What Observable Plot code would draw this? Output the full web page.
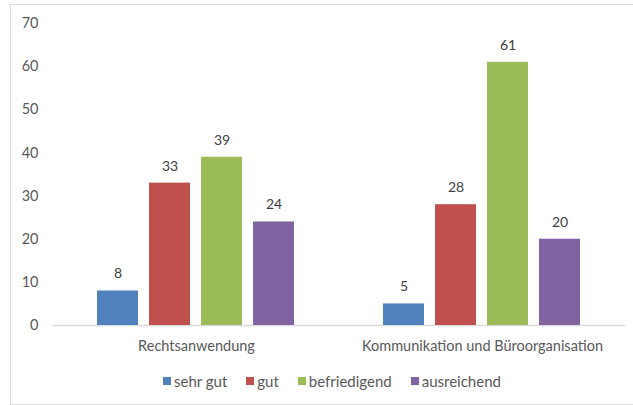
<!DOCTYPE html>
<html>
<head>
<meta charset="utf-8">
<script src="https://cdn.jsdelivr.net/npm/d3@7"></script>
<script src="https://cdn.jsdelivr.net/npm/@observablehq/plot@0.6"></script>
<style>
  html, body { margin: 0; padding: 0; background: #fff; }
  #wrap { position: relative; width: 633px; height: 405px; overflow: hidden; font-family: Lato, sans-serif; }
  #frame { position: absolute; left: 10px; top: 4px; width: 640px; height: 401px; border: 1.5px solid #d9d9d9; box-sizing: border-box; }
  #chart { position: absolute; left: 0; top: 0; }
  #legend { position: absolute; left: 163px; top: 372px; display: flex; gap: 19px; font-size: 15px; color: #595959; white-space: nowrap; }
  #legend span.item { display: flex; align-items: center; }
  #legend span.sw { display: inline-block; width: 8px; height: 8px; margin-right: 3px; }
</style>
</head>
<body>
<div id="wrap">
  <div id="frame"></div>
  <div id="chart"></div>
  <div id="legend"></div>
</div>
<script>
const categories = ["Rechtsanwendung", "Kommunikation und Büroorganisation"];
const series = ["sehr gut", "gut", "befriedigend", "ausreichend"];
const colors = ["#4F81BD", "#C0504D", "#9BBB59", "#8064A2"];
const valuesRechtsanwendung = [8, 33, 39, 24];
const valuesKommunikation = [5, 28, 61, 20];
const yTicks = [0, 10, 20, 30, 40, 50, 60, 70];

const allValues = [valuesRechtsanwendung, valuesKommunikation];
const data = [];
categories.forEach((c, i) => series.forEach((s, j) => data.push({category: c, series: s, value: allValues[i][j]})));

const chart = Plot.plot({
  width: 633,
  height: 360,
  marginLeft: 53,
  marginRight: 8,
  marginTop: 23,
  marginBottom: 35,
  style: {fontFamily: "Lato, sans-serif", fontSize: "14.5px", color: "#595959", background: "transparent"},
  fx: {domain: categories, padding: 0, label: null, tickSize: 0, tickPadding: 15, axis: "bottom"},
  x: {domain: series, axis: null, paddingInner: 0.21, paddingOuter: 0.855},
  y: {domain: [0, 70], ticks: yTicks, label: null, tickSize: 0, tickPadding: 15},
  color: {domain: series, range: colors},
  marks: [
    Plot.ruleY([0], {stroke: "#d9d9d9", strokeWidth: 1.5}),
    Plot.barY(data, {fx: "category", x: "series", y: "value", fill: "series"}),
    Plot.text(data, {fx: "category", x: "series", y: "value", text: d => String(d.value), dy: -17, fill: "#404040", fontSize: 14})
  ]
});
document.getElementById("chart").appendChild(chart);

const legend = document.getElementById("legend");
series.forEach((s, i) => {
  const item = document.createElement("span");
  item.className = "item";
  item.innerHTML = `<span class="sw" style="background:${colors[i]}"></span>${s}`;
  legend.appendChild(item);
});
</script>
</body>
</html>
